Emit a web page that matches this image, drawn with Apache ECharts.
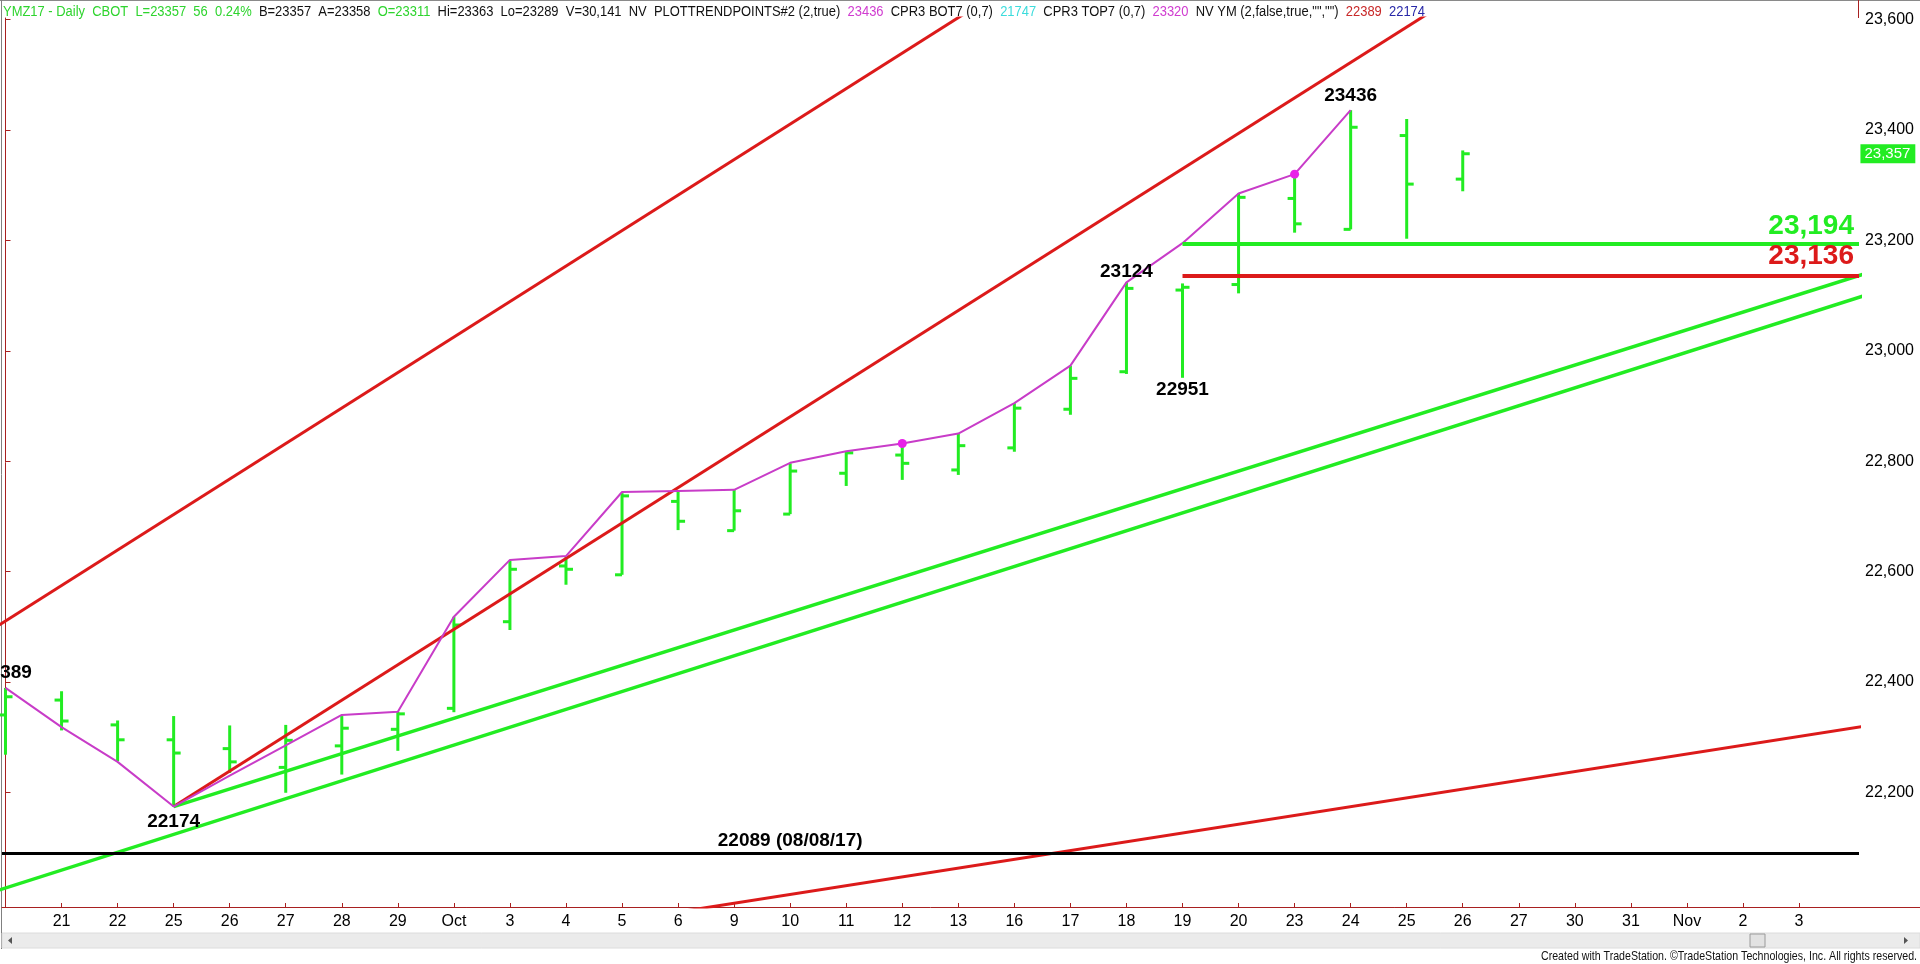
<!DOCTYPE html>
<html>
<head>
<meta charset="utf-8">
<script src="https://cdn.jsdelivr.net/npm/echarts@6/dist/echarts.min.js"></script>
<style>
html,body{margin:0;padding:0;background:#fff;overflow:hidden}
#c{width:1920px;height:964px}
</style>
</head>
<body>
<div id="c"></div>
<script>
// ---------------- DATA ----------------
const dateLabels = ['20','21','22','25','26','27','28','29','Oct','3','4','5','6','9','10','11','12','13','16','17','18','19','20','23','24','25','26','27','30','31','Nov','2','3','6'];
const labelIndexes = [1,2,3,4,5,6,7,8,9,10,11,12,13,14,15,16,17,18,19,20,21,22,23,24,25,26,27,28,29,30,31,32];

const opens  = [22340,22367,22322,22295,22279,22245,22284,22314,22352,22509,22610,22594,22727,22674,22704,22778,22811,22784,22824,22894,22962,23110,23120,23276,23220,23390,23311];
const highs  = [22389,22383,22330,22338,22321,22322,22338,22346,22518,22619,22627,22742,22746,22748,22796,22817,22832,22850,22905,22973,23124,23122,23285,23320,23436,23420,23363];
const lows   = [22268,22312,22256,22174,22235,22199,22232,22275,22345,22494,22576,22594,22675,22674,22704,22755,22766,22775,22817,22884,22958,22951,23104,23214,23220,23203,23289];
const closes = [22373,22329,22295,22271,22255,22294,22316,22342,22503,22604,22604,22737,22691,22710,22782,22815,22796,22828,22896,22950,23113,23115,23278,23230,23405,23302,23357];

const pivotLine = [22389,22318,22255,22174,22230,22285,22340,22346,22518,22621,22628,22744,22746,22748,22797,22818,22832,22850,22905,22973,23124,23195,23285,23320,23436];
const pivotDots = [16, 23];

const pivotLabels = [
  {i:0,  v:22389, text:'22389', pos:'top',    dist:5},
  {i:3,  v:22174, text:'22174', pos:'bottom', dist:5},
  {i:20, v:23124, text:'23124', pos:'top',    dist:1},
  {i:21, v:22951, text:'22951', pos:'bottom', dist:2},
  {i:24, v:23436, text:'23436', pos:'top',    dist:4}
];

const yTicks = [22200,22400,22600,22800,23000,23200,23400,23600];

const trendRedUpper   = [[-1, 22446], [18, 23668]];
const trendRedLower   = [[3, 22174], [27, 23715]];
const trendRedBottom  = [[11, 21967], [34, 22333]];
const trendGreenUpper = [[3, 22174], [34, 23166]];
const trendGreenLower = [[-1, 21994], [34, 23127]];

const levelGreen = 23194;
const levelRed = 23136;
const levelStart = 21;
const levelBlack = 22089;
const levelBlackText = '22089 (08/08/17)';
const levelBlackLabelAt = 14;
const lastPrice = 23357;

const headerParts = [
  ['YMZ17 - Daily  CBOT  L=23357  56  0.24%', '#2ed42e'],
  ['  B=23357  A=23358  ', '#111'],
  ['O=23311', '#2ed42e'],
  ['  Hi=23363  Lo=23289  V=30,141  NV  PLOTTRENDPOINTS#2 (2,true)  ', '#111'],
  ['23436', '#d03cd0'],
  ['  CPR3 BOT7 (0,7)  ', '#111'],
  ['21747', '#3cdcdc'],
  ['  CPR3 TOP7 (0,7)  ', '#111'],
  ['23320', '#d03cd0'],
  ['  NV YM (2,false,true,"","")  ', '#111'],
  ['22389', '#c82828'],
  ['  ', '#111'],
  ['22174', '#2828a8']
];
const footerText = 'Created with TradeStation. \u00A9TradeStation Technologies, Inc. All rights reserved.';

// ---------------- STYLE ----------------
const GREEN = '#22ec22';
const RED = '#dc1a1a';
const AXIS_RED = '#a82020';
const MAGENTA = '#c83cc8';
const FONT = "'Liberation Sans', Arial, sans-serif";

const xMin = -0.0625, xMax = 33.07;
const yMin = 21992, yMax = 23603;

const mctx = document.createElement('canvas').getContext('2d');
function measure(t, font){ mctx.font = font; return mctx.measureText(t).width; }

// header layout
const headerFont = "14px 'Liberation Sans'";
let cum = 0;
const headerChildren = headerParts.map(([t, col]) => {
  const el = {type:'text', x:cum, y:0, style:{text:t, fill:col, font:headerFont, verticalAlign:'middle'}};
  cum += measure(t, headerFont);
  return el;
});
const headerScale = 1422 / cum;

const footerFont = "13px 'Liberation Sans'";
const footerScale = 376 / measure(footerText, footerFont);

// ---------------- SERIES ----------------
const ohlcData = opens.map((o, i) => [i, o, highs[i], lows[i], closes[i]]);

function renderOHLC(params, api){
  const i = api.value(0);
  const pO = api.coord([i, api.value(1)]);
  const pH = api.coord([i, api.value(2)]);
  const pL = api.coord([i, api.value(3)]);
  const pC = api.coord([i, api.value(4)]);
  const st = {stroke: GREEN, lineWidth: 3};
  return {type:'group', children:[
    {type:'line', shape:{x1:pH[0], y1:pH[1], x2:pL[0], y2:pL[1]}, style:st},
    {type:'line', shape:{x1:pO[0]-7, y1:pO[1], x2:pO[0], y2:pO[1]}, style:st},
    {type:'line', shape:{x1:pC[0], y1:pC[1], x2:pC[0]+7, y2:pC[1]}, style:st}
  ]};
}

function trend(data, color, width){
  return {type:'line', data:data, symbol:'none', showSymbol:false, silent:true, clip:true, z:3,
    lineStyle:{color:color, width:width}, animation:false};
}

const pivotData = pivotLine.map((v, i) => pivotDots.indexOf(i) >= 0
  ? {value:[i, v], symbol:'circle', symbolSize:9, itemStyle:{color:'#e822e8'}}
  : {value:[i, v], symbol:'none'});

const fmt = v => v.toLocaleString('en-US');

const markPoints = pivotLabels.map(p => ({
  name:p.text, coord:[p.i, p.v], symbol:'rect', symbolSize:[1,1], itemStyle:{color:'rgba(0,0,0,0)'},
  label:{show:true, position:p.pos, distance:p.dist, formatter:'{b}', color:'#000', fontSize:19, fontWeight:'bold', fontFamily:FONT}
}));
markPoints.push({
  name:levelBlackText, coord:[levelBlackLabelAt, levelBlack], symbol:'rect', symbolSize:[1,1], itemStyle:{color:'rgba(0,0,0,0)'},
  label:{show:true, position:'top', distance:3, formatter:'{b}', color:'#000', fontSize:19, fontWeight:'bold', fontFamily:FONT}
});
markPoints.push({
  name:fmt(lastPrice), coord:[xMax - 0.001, lastPrice], symbol:'rect', symbolSize:[1,1], itemStyle:{color:'rgba(0,0,0,0)'},
  label:{show:true, position:'right', distance:1, formatter:'{b}', color:'#fff', backgroundColor:GREEN, padding:[2,5,2,4], fontSize:15, fontFamily:FONT}
});

const markLines = [
  [{coord:[xMin, levelBlack], lineStyle:{color:'#000', width:3, type:'solid'}, label:{show:false}}, {coord:[xMax, levelBlack]}],
  [{coord:[levelStart, levelGreen], lineStyle:{color:GREEN, width:4, type:'solid'},
    label:{show:true, position:'insideEndTop', distance:[5,3], formatter:fmt(levelGreen), color:GREEN, fontSize:28, fontWeight:'bold', fontFamily:FONT}},
   {coord:[xMax, levelGreen]}],
  [{coord:[levelStart, levelRed], lineStyle:{color:RED, width:4, type:'solid'},
    label:{show:true, position:'insideEndTop', distance:[5,5], formatter:fmt(levelRed), color:RED, fontSize:28, fontWeight:'bold', fontFamily:FONT}},
   {coord:[xMax, levelRed]}]
];

const option = {
  animation:false,
  backgroundColor:'#ffffff',
  grid:{left:2, right:61, top:18, bottom:57, containLabel:false},
  xAxis:{
    type:'value', min:xMin, max:xMax,
    splitLine:{show:false},
    axisLine:{show:true, onZero:false, lineStyle:{color:AXIS_RED, width:1}},
    axisTick:{show:true, inside:true, length:4, customValues:labelIndexes, lineStyle:{color:AXIS_RED}},
    axisLabel:{show:true, customValues:labelIndexes, formatter:v => dateLabels[Math.round(v)], color:'#000', fontSize:16, fontFamily:FONT, margin:7}
  },
  yAxis:{
    type:'value', position:'right', min:yMin, max:yMax,
    splitLine:{show:false},
    axisLine:{show:true, lineStyle:{color:AXIS_RED, width:1}},
    axisTick:{show:true, inside:false, length:5, customValues:yTicks, lineStyle:{color:AXIS_RED}},
    axisLabel:{show:true, customValues:yTicks, formatter:v => fmt(v), color:'#000', fontSize:16, fontFamily:FONT, margin:6}
  },
  series:[
    {type:'custom', name:'OHLC', renderItem:renderOHLC, data:ohlcData, encode:{x:0, y:[1,2,3,4]}, z:2, silent:true},
    trend(trendRedUpper, RED, 3),
    trend(trendRedLower, RED, 3),
    trend(trendRedBottom, RED, 3),
    trend(trendGreenUpper, GREEN, 3.5),
    trend(trendGreenLower, GREEN, 3.5),
    {type:'line', name:'pivots', data:pivotData, symbol:'none', showSymbol:true, clip:false, z:4, silent:true,
      lineStyle:{color:MAGENTA, width:2},
      markLine:{symbol:'none', silent:true, animation:false, data:markLines, z:5},
      markPoint:{silent:true, animation:false, data:markPoints, z:6}
    }
  ],
  graphic:[
    {type:'line', shape:{x1:0, y1:0.5, x2:1920, y2:0.5}, style:{stroke:'#8a8a8a', lineWidth:1}, silent:true},
    {type:'line', shape:{x1:1.5, y1:0, x2:1.5, y2:949}, style:{stroke:'#808080', lineWidth:1}, silent:true},
    {type:'line', shape:{x1:1858.5, y1:0, x2:1858.5, y2:18}, style:{stroke:AXIS_RED, lineWidth:1}, silent:true},
    {type:'line', shape:{x1:1859, y1:907.5, x2:1920, y2:907.5}, style:{stroke:AXIS_RED, lineWidth:1}, silent:true},
    {type:'rect', shape:{x:2, y:933, width:1918, height:15}, style:{fill:'#ebebeb', stroke:'#dcdcdc', lineWidth:1}, silent:true},
    {type:'polygon', shape:{points:[[12,937],[12,944],[8,940.5]]}, style:{fill:'#555'}, silent:true},
    {type:'polygon', shape:{points:[[1904,937],[1904,944],[1908,940.5]]}, style:{fill:'#555'}, silent:true},
    {type:'rect', shape:{x:1750, y:934, width:15, height:13}, style:{fill:'#e2e2e2', stroke:'#9a9a9a', lineWidth:1}, silent:true},
    {type:'group', x:3, y:12, scaleX:headerScale, children:headerChildren, silent:true},
    {type:'group', x:1917, y:956, scaleX:footerScale, silent:true, children:[
      {type:'text', x:0, y:0, style:{text:footerText, fill:'#111', font:footerFont, align:'right', verticalAlign:'middle'}}
    ]}
  ]
};

const chart = echarts.init(document.getElementById('c'), null, {renderer:'canvas'});
chart.setOption(option);
</script>
</body>
</html>
